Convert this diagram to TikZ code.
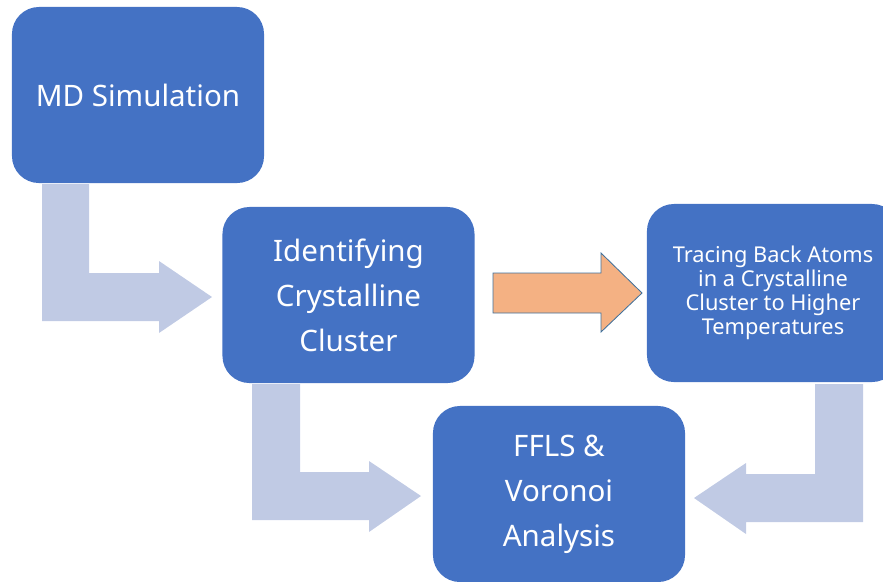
\documentclass[tikz,border=0pt]{standalone}
\usepackage{fontspec}
\setmainfont{Noto Sans}
\usetikzlibrary{positioning}

\definecolor{boxblue}{HTML}{4472C4}
\definecolor{bentgray}{HTML}{C0CAE4}
\definecolor{orangefill}{HTML}{F4B183}
\definecolor{orangeline}{HTML}{41719C}

\begin{document}
\begin{tikzpicture}
    [x=0.025cm, y=-0.025cm,
     box/.style={rectangle, rounded corners=0.675cm, fill=boxblue, text=white, minimum width=6.3cm, minimum height=4.4cm, align=center, inner sep=2pt, font=\fontsize{21}{32}\selectfont},
     small/.style={font=\fontsize{15.5}{17}\selectfont},
     bent/.style={fill=bentgray},
     push/.style={fill=orangefill, draw=orangeline, line width=0.6pt, line join=miter}]

    \useasboundingbox (0,0) rectangle (883,581);

    % bent arrows behind the boxes
    \fill [bent] (42,184) -- (89,184) -- (89,273) -- (159,273) -- (159,261) -- (212,297)
        -- (159,333) -- (159,321) -- (42,321) -- cycle;
    \fill [bent] (252,384) -- (300,384) -- (300,472) -- (369,472) -- (369,461) -- (421,496)
        -- (369,532) -- (369,520) -- (252,520) -- cycle;
    \fill [bent] (863,384) -- (815,384) -- (815,474) -- (746,474) -- (746,463) -- (694,498)
        -- (746,534) -- (746,522) -- (863,522) -- cycle;

    \node [box] (md) at (138,95) {MD Simulation};
    \node [box] (ident) at (348.5,295) {Identifying\\Crystalline\\Cluster};
    \node [box, small, minimum height=4.45cm] (trace) at (773,293) {
	Tracing Back Atoms\\in a Crystalline\\Cluster to Higher\\Temperatures
    };
    \node [box] (ffls) at (559,494) {FFLS \&\\Voronoi\\Analysis};

    % straight arrow
    \draw [push] (493,273) -- (601,273) -- (601,253) -- (642,293) -- (601,332)
        -- (601,313) -- (493,313) -- cycle;
\end{tikzpicture}
\end{document}
